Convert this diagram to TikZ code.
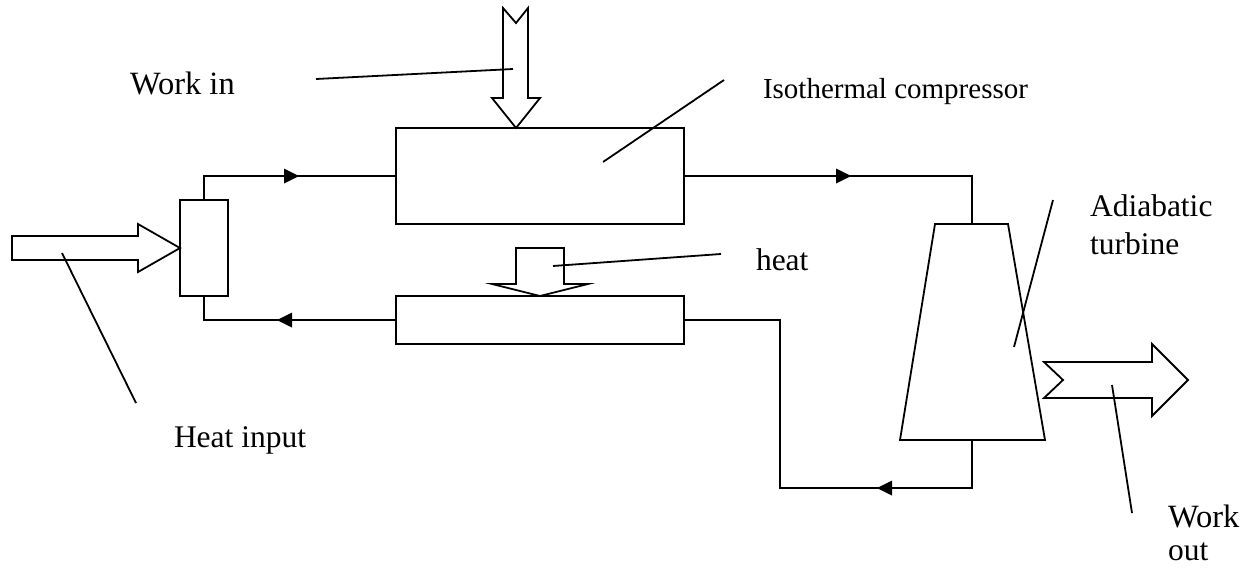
\documentclass[tikz,border=0pt]{standalone}
\usepackage{fontspec}
\setmainfont{Liberation Serif}
\tikzset{
  ln/.style={line width=1.8pt,black},
  boxn/.style={draw,line width=1.8pt,rectangle,inner sep=0pt,outer sep=0pt},
  blockarrow/.style={ln,line join=miter,fill=white},
  thick seg/.style={line width=2.8pt,black},
  tip/.style={fill=black,draw=none},
  lbl/.style={anchor=base west,inner sep=0pt,outer sep=0pt,font=\fontsize{31.5}{34}\selectfont},
  lblsmall/.style={anchor=base west,inner sep=0pt,outer sep=0pt,font=\fontsize{29}{34}\selectfont},
  lblbig/.style={anchor=base west,inner sep=0pt,outer sep=0pt,font=\fontsize{32.5}{34}\selectfont},
  leader/.style={ln}
}
\begin{document}
\begin{tikzpicture}[x=1pt,y=-1pt]
\useasboundingbox (0,0) rectangle (1258,568);
\fill[white] (0,0) rectangle (1258,568);

% components
\node[boxn,minimum width=288pt,minimum height=96pt] (comp) at (540,176) {};
\node[boxn,minimum width=288pt,minimum height=48pt] (cool) at (540,320) {};
\node[boxn,minimum width=48pt,minimum height=96pt] (heater) at (204,248) {};
\coordinate (tTL) at (935,224);
\coordinate (tTR) at (1008,224);
\coordinate (tBR) at (1045,440);
\coordinate (tBL) at (900,440);
\coordinate (tTop) at (972,224);
\coordinate (tBot) at (972,440);
\coordinate (workTip) at (516,128);
\draw[ln,line join=miter] (tTL) -- (tTR) -- (tBR) -- (tBL) -- cycle;

% connectors
\draw[ln] (heater.north) |- (comp.west);
\draw[ln] (heater.south) |- (cool.west);
\draw[ln] (comp.east) -| (tTop);
\draw[ln] (cool.east) -- (780,320) -- (780,488) -- (972,488) -- (tBot);

% thick segments and arrowheads
\draw[thick seg] (252,176) -- (284,176);
\fill[tip] (284,168.5) -- (299,176) -- (284,183.5) -- cycle;
\draw[thick seg] (349,320) -- (292,320);
\fill[tip] (292,312.5) -- (277,320) -- (292,327.5) -- cycle;
\draw[thick seg] (comp.east) -- (836,176);
\fill[tip] (836,168.5) -- (851,176) -- (836,183.5) -- cycle;
\draw[thick seg] (972,488) -- (892,488);
\fill[tip] (892,480.5) -- (877,488) -- (892,495.5) -- cycle;

% block arrows
\draw[blockarrow] (503,8) -- (516,23) -- (528,8) -- (528,98) -- (540,98) -- (workTip) -- (492,98) -- (503,98) -- cycle;
\draw[blockarrow] (12,236) -- (138,236) -- (138,224) -- (heater.west) -- (138,272) -- (138,260) -- (12,260) -- cycle;
\draw[blockarrow] (516,248) -- (564,248) -- (564,284) -- (588,284) -- (cool.north) -- (492,284) -- (516,284) -- cycle;
\draw[blockarrow] (1044,362) -- (1152,362) -- (1152,344) -- (1188,380) -- (1152,416) -- (1152,398) -- (1044,398) -- (1063,380) -- cycle;

% labels
\node[lblbig] (workin) at (130,94) {Work in};
\node[lblsmall] (iso) at (763,98) {Isothermal compressor};
\node[lbl] (heatlbl) at (756,270) {heat};
\node[lbl] (adia) at (1090,216) {Adiabatic};
\node[lbl] (turb) at (1090,254) {turbine};
\node[lbl] (heatin) at (174,447) {Heat input};
\node[lblbig] (workl) at (1168,527) {Work};
\node[lbl] (outl) at (1168,560) {out};

% leader lines
\coordinate (a1) at (316,79); \coordinate (a2) at (513,69);
\coordinate (b1) at (724,80); \coordinate (b2) at (603,162);
\coordinate (c1) at (721,254); \coordinate (c2) at (553,266);
\coordinate (d1) at (1053,200); \coordinate (d2) at (1014,347);
\coordinate (e1) at (136,403); \coordinate (e2) at (62,253);
\coordinate (f1) at (1132,513); \coordinate (f2) at (1112,385);
\draw[leader] (a1) -- (a2);
\draw[leader] (b1) -- (b2);
\draw[leader] (c1) -- (c2);
\draw[leader] (d1) -- (d2);
\draw[leader] (e1) -- (e2);
\draw[leader] (f1) -- (f2);
\end{tikzpicture}
\end{document}
